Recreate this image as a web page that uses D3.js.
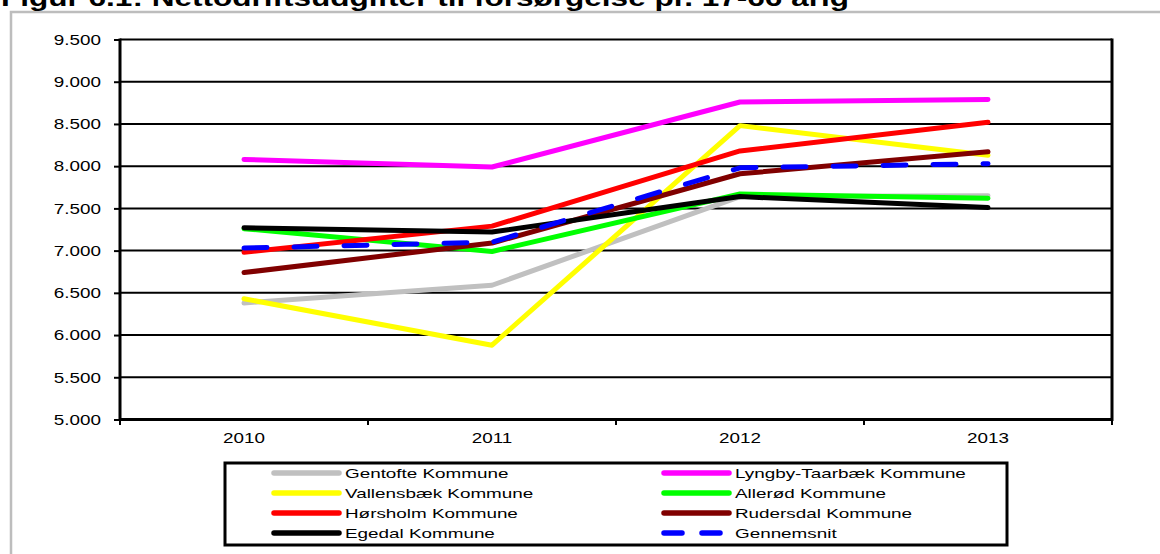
<!DOCTYPE html>
<html>
<head>
<meta charset="utf-8">
<script src="https://cdn.jsdelivr.net/npm/d3@7"></script>
<style>
  html, body { margin: 0; padding: 0; background: #fff; }
  svg { display: block; }
  text { font-family: "Liberation Sans", Arial, sans-serif; fill: #000; }
</style>
</head>
<body>
<svg id="chart" width="1160" height="554"></svg>
<script>
// Nettodriftsudgifter til forsørgelse pr. 17-66 årig (kr.)
const years = ["2010", "2011", "2012", "2013"];
const seriesNames = [
  "Gentofte Kommune", "Lyngby-Taarbæk Kommune", "Vallensbæk Kommune", "Allerød Kommune",
  "Hørsholm Kommune", "Rudersdal Kommune", "Egedal Kommune", "Gennemsnit"
];
const gentofte   = [6380, 6590, 7640, 7650];
const lyngby     = [8080, 7990, 8760, 8790];
const vallensbaek = [6430, 5880, 8480, 8130];
const alleroed   = [7260, 6990, 7670, 7620];
const hoersholm  = [6980, 7290, 8180, 8520];
const rudersdal  = [6740, 7090, 7910, 8170];
const egedal     = [7270, 7220, 7640, 7510];
const gennemsnit = [7030, 7100, 7980, 8030];
const yTicks = [5000, 5500, 6000, 6500, 7000, 7500, 8000, 8500, 9000, 9500];
const yTickLabels = ["5.000", "5.500", "6.000", "6.500", "7.000", "7.500", "8.000", "8.500", "9.000", "9.500"];
const titleText = "Figur 6.1: Nettodriftsudgifter til forsørgelse pr. 17-66 årig";

const seriesValues = [gentofte, lyngby, vallensbaek, alleroed, hoersholm, rudersdal, egedal, gennemsnit];
const colors = ["#c0c0c0", "#ff00ff", "#ffff00", "#00ff00", "#ff0000", "#800000", "#000000", "#0000ff"];
const series = seriesNames.map((name, i) => ({
  name, color: colors[i], dashed: name === "Gennemsnit",
  values: years.map((y, j) => ({ year: y, value: seriesValues[i][j] }))
}));

const svg = d3.select("#chart");
const plot = { left: 120, right: 1112, top: 39.5, bottom: 419.5 };

const x = d3.scaleBand().domain(years).range([plot.left, plot.right]).padding(0);
const y = d3.scaleLinear().domain([5000, 9500]).range([plot.bottom, plot.top]);

// horizontally widened text, as in the printed figure
function wideText(sel, sx) {
  return sel.attr("transform", function() {
    const tx = +this.getAttribute("data-x"), ty = +this.getAttribute("data-y");
    return `translate(${tx},${ty}) scale(${sx},1)`;
  });
}

// outer frame (grey)
svg.append("path")
  .attr("d", "M11,560 L11,12 L1170,12")
  .attr("fill", "none").attr("stroke", "#bdbdbd").attr("stroke-width", 2.5);

// title
svg.append("text")
  .attr("x", 1).attr("y", 6)
  .attr("font-size", 23).attr("font-weight", "bold")
  .attr("textLength", 848).attr("lengthAdjust", "spacingAndGlyphs")
  .text(titleText);

// gridlines
svg.append("g").selectAll("line")
  .data(yTicks.slice(1))
  .join("line")
  .attr("x1", plot.left).attr("x2", plot.right)
  .attr("y1", d => y(d)).attr("y2", d => y(d))
  .attr("stroke", "#000").attr("stroke-width", 2);

// right frame edge
svg.append("line")
  .attr("x1", plot.right).attr("x2", plot.right)
  .attr("y1", plot.top - 1).attr("y2", plot.bottom + 1.5)
  .attr("stroke", "#000").attr("stroke-width", 3);

// y axis
const yAxis = svg.append("g").attr("transform", `translate(${plot.left},0)`)
  .call(d3.axisLeft(y).tickValues(yTicks).tickSize(6).tickFormat(""));
yAxis.select(".domain").attr("d", `M0,${plot.top - 1}V${plot.bottom + 1.5}`).attr("stroke-width", 3);
yAxis.selectAll(".tick line").attr("stroke-width", 2);

svg.append("g").selectAll("text")
  .data(yTicks)
  .join("text")
  .attr("data-x", 101).attr("data-y", d => y(d))
  .attr("text-anchor", "end").attr("dy", "0.36em")
  .attr("font-size", 14.5)
  .text((d, i) => yTickLabels[i])
  .call(wideText, 1.3);

// x axis
const xAxis = svg.append("g").attr("transform", `translate(0,${plot.bottom})`)
  .call(d3.axisBottom(x).tickSize(0).tickFormat(""));
xAxis.select(".domain").attr("d", `M${plot.left},0H${plot.right}`).attr("stroke-width", 3);
xAxis.selectAll(".tick").remove();

const boundaries = years.map(d => x(d)).concat([x(years[years.length - 1]) + x.bandwidth()]);
svg.append("g").selectAll("line")
  .data(boundaries)
  .join("line")
  .attr("x1", d => d).attr("x2", d => d)
  .attr("y1", plot.bottom).attr("y2", plot.bottom + 5.5)
  .attr("stroke", "#000").attr("stroke-width", 2);

svg.append("g").selectAll("text")
  .data(years)
  .join("text")
  .attr("data-x", d => x(d) + x.bandwidth() / 2).attr("data-y", 438)
  .attr("text-anchor", "middle").attr("dy", "0.36em")
  .attr("font-size", 14.5)
  .text(d => d)
  .call(wideText, 1.3);

// series lines
const line = d3.line()
  .x(d => x(d.year) + x.bandwidth() / 2)
  .y(d => y(d.value));

svg.append("g").selectAll("path")
  .data(series)
  .join("path")
  .attr("d", d => line(d.values))
  .attr("fill", "none")
  .attr("stroke", d => d.color)
  .attr("stroke-width", 5)
  .attr("stroke-linejoin", "round")
  .attr("stroke-linecap", "round")
  .attr("stroke-dasharray", d => d.dashed ? "23 27" : null);

// legend
const legend = { x: 225, y: 463, w: 782, h: 82 };
svg.append("rect")
  .attr("x", legend.x).attr("y", legend.y)
  .attr("width", legend.w).attr("height", legend.h)
  .attr("fill", "none").attr("stroke", "#000").attr("stroke-width", 3);

const colX = [274, 664];
const items = svg.append("g").selectAll("g")
  .data(series)
  .join("g")
  .attr("transform", (d, i) => `translate(${colX[i % 2]},${473 + Math.floor(i / 2) * 20})`);

items.append("line")
  .attr("x1", 0).attr("x2", 65)
  .attr("stroke", d => d.color)
  .attr("stroke-width", 5.5)
  .attr("stroke-linecap", "round")
  .attr("stroke-dasharray", d => d.dashed ? "18 20" : null);

items.append("text")
  .attr("data-x", 71).attr("data-y", 0)
  .attr("dy", "0.36em")
  .attr("font-size", 13.2)
  .text(d => d.name)
  .call(wideText, 1.43);
</script>
</body>
</html>
